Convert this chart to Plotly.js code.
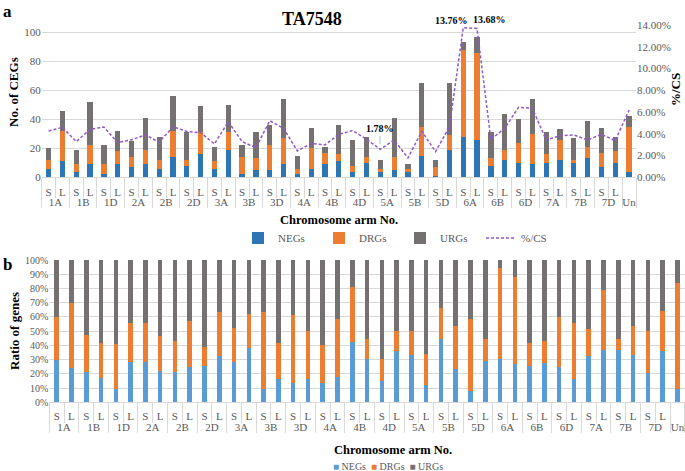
<!DOCTYPE html>
<html>
<head>
<meta charset="utf-8">
<script src="https://cdn.plot.ly/plotly-3.0.1.min.js"></script>
<style>html,body{margin:0;padding:0;background:#fff;}#chart{width:685px;height:471px;}</style>
</head>
<body>
<div id="chart"></div>
<script>
// ---- data ----
var chromosomes = ['1A','1B','1D','2A','2B','2D','3A','3B','3D','4A','4B','4D','5A','5B','5D','6A','6B','6D','7A','7B','7D'];
var arms = ['S','L'];
var unLabel = 'Un';

// Panel a: counts of CEGs per arm (order: 1A S, 1A L, 1B S, ... , 7D L, Un)
var negCounts = [6,11,4,9,2,9,7,9,6,14,8,16,6,19,2,5,5,9,2,6,9,11,4,10,4,5,4,15,1,19,28,26,8,12,10,9,10,12,10,13,7,10,4];
var drgCounts = [6,21,5,13,7,9,7,10,6,18,4,15,5,12,12,8,17,18,4,14,8,5,4,4,2,9,2,20,6,10,60,60,5,7,14,21,6,14,2,8,10,8,31];
var urgCounts = [8,14,10,30,13,14,11,22,16,24,19,18,10,19,8,18,14,27,9,14,4,20,18,14,6,27,3,30,5,36,5,11,18,25,16,24,15,7,15,18,17,10,7];
var pctCS = [4.26,4.6,3.28,4.42,4.62,3.2,3.45,3.9,3.23,4.65,4.22,4.1,3.07,5.1,3.28,2.72,5.2,4.5,2.42,3.12,2.98,3.95,4.3,3.5,2.57,3.43,1.78,4.23,2.36,4.65,13.76,13.68,3.49,4.5,6.44,6.34,3.43,3.83,3.89,3.43,3.95,3.37,6.19];

// Panel b: ratio of genes (%)
var negPct = [30,23.9,21,17.3,9.1,28,28,22,21.4,25,25.8,32.6,28.6,38.2,9.1,16.2,13.6,16.4,13.3,17.8,42.6,30.4,15.2,35.8,33.3,12.2,44.5,23.2,8.2,29.2,30.2,26.9,25.8,27.4,24.8,16.4,32.3,36.6,37.1,33.3,20.5,35.9,9.5];
var drgPct = [30,45.9,26.3,24.7,31.6,28,28,24.4,21.4,32,13,30.7,23.8,23.9,54.7,25.8,47.5,33.7,26.7,40.8,38.4,14.1,15.5,14.2,16.7,21.9,22.1,30.7,50.2,15.4,64.5,61.4,16,15.8,35.3,39.2,19.3,42.3,7.4,20.6,29.5,28.4,74];
var urgPct = [40,30.2,52.7,58,59.3,44,44,53.6,57.2,43,61.2,36.7,47.6,37.9,36.2,58,38.9,49.9,60,41.4,19,55.5,69.3,50,50,65.9,33.4,46.1,41.6,55.4,5.3,11.7,58.2,56.8,39.9,44.4,48.4,21.1,55.5,46.1,50,35.7,16.5];

var seriesNames = ['NEGs','DRGs','URGs'];
var colorsA = ['#2E75B6','#ED7D31','#767171'];
var colorsB = ['#5B9BD5','#ED7D31','#767171'];

// ---- build multicategory x ----
var lvl1 = [], lvl2 = [];
chromosomes.forEach(function(c){ arms.forEach(function(a){ lvl1.push(c); lvl2.push(a); }); });
lvl1.push(unLabel); lvl2.push(' ');
var X = [lvl1, lvl2];

var SERIF = 'Liberation Serif, Times New Roman, serif';
var W = 685, H = 471;
function px(x){ return x / W; }
function py(y){ return 1 - y / H; }

var topDom = [px(41.7), px(636)];
var botDom = [px(49.3), px(684.8)];

var countsA = [negCounts, drgCounts, urgCounts];
var pctsB = [negPct, drgPct, urgPct];
var traces = [];
for (var k = 0; k < 3; k++) {
  traces.push({type:'bar', name:seriesNames[k], x:X, y:countsA[k], marker:{color:colorsA[k]}, width:0.38, xaxis:'x', yaxis:'y'});
}
traces.push({type:'scatter', mode:'lines', name:'%/CS', x:X, y:pctCS, line:{color:'#9157C9', width:1.5, dash:'3px,2px'}, xaxis:'x', yaxis:'y2'});
for (var k2 = 0; k2 < 3; k2++) {
  traces.push({type:'bar', name:seriesNames[k2], x:X, y:pctsB[k2], marker:{color:colorsB[k2]}, width:0.31, xaxis:'x2', yaxis:'y3', showlegend:false});
}

var tickFont = {family:SERIF, size:11, color:'#595959'};
function catAxis(dom, anchor, standoff){
  return {type:'multicategory', domain:dom, anchor:anchor, showgrid:false, showline:true, linecolor:'#D9D9D9',
    tickmode:'linear', dtick:1, tick0:0, tickangle:0,
    ticks:'outside', tickson:'boundaries', ticklen:20, tickcolor:'#D9D9D9', ticklabelstandoff:standoff,
    showdividers:true, dividercolor:'#D9D9D9', dividerwidth:1,
    tickfont:tickFont, automargin:false, fixedrange:true};
}

// bottom legend drawn as text with coloured squares
var legendB = seriesNames.map(function(n, i){
  return '<span style="color:' + colorsB[i] + '">■</span> ' + n;
}).join('&nbsp;&nbsp;');

function note(text, x, y, size, extra){
  var a = {text:text, xref:'paper', yref:'paper', x:px(x), y:py(y), xanchor:'center', yanchor:'middle',
           showarrow:false, font:{family:SERIF, size:size, color:'#000'}};
  if (extra) { for (var key in extra) { a[key] = extra[key]; } }
  return a;
}

var layout = {
  width:W, height:H, autosize:false, margin:{l:0,r:0,t:0,b:0}, paper_bgcolor:'#fff', plot_bgcolor:'#fff',
  barmode:'stack', showlegend:true,
  font:{family:SERIF, color:'#000'},
  xaxis: catAxis(topDom, 'y', 4),
  yaxis: {domain:[py(177.3), py(3.3)], range:[0,120], dtick:20, showgrid:true, gridcolor:'#D9D9D9', zeroline:false,
          showline:false, ticks:'', tickfont:tickFont, automargin:false, anchor:'x'},
  yaxis2: {overlaying:'y', side:'right', anchor:'x', range:[0,16], dtick:2, tickformat:'.2f', ticksuffix:'%',
           showgrid:false, zeroline:false, showline:false, ticks:'', tickfont:tickFont, automargin:false},
  xaxis2: catAxis(botDom, 'y3', 3),
  yaxis3: {domain:[py(402.3), py(260)], range:[0,100], dtick:10, ticksuffix:'%', showgrid:true, gridcolor:'#D9D9D9',
           zeroline:false, showline:false, ticks:'', tickfont:{family:SERIF, size:10, color:'#595959'}, automargin:false, anchor:'x2'},
  legend: {orientation:'h', x:px(238), y:py(238), xanchor:'left', yanchor:'middle', entrywidth:36, entrywidthmode:'pixels',
           font:{family:SERIF, size:11, color:'#595959'}, bgcolor:'rgba(0,0,0,0)', traceorder:'normal'},
  annotations: [
    note('<b>a</b>', 7, 12, 17),
    note('<b>b</b>', 7, 264, 17),
    note('<b>TA7548</b>', 312, 19, 18),
    note('<b>No. of CEGs</b>', 14, 92, 13, {textangle:-90}),
    note('<b>%/CS</b>', 676, 90, 13, {textangle:-90}),
    note('<b>Chromosome arm No.</b>', 339, 220, 12.5),
    note('<b>Chromosome arm No.</b>', 393, 450, 12.5),
    note('<b>Ratio of genes</b>', 14, 331, 13, {textangle:-90}),
    note('<b>13.76%</b>', 451, 20.5, 10),
    note('<b>13.68%</b>', 489, 20, 10),
    {text:'<b>1.78%</b>', xref:'paper', yref:'paper', x:px(380), y:py(144), ax:0, ay:-15, showarrow:true, arrowhead:0, arrowwidth:1,
     arrowcolor:'#9DC3E6', standoff:0, font:{family:SERIF, size:10, color:'#000'}},
    note(legendB, 388, 466, 10, {font:{family:SERIF, size:10, color:'#595959'}})
  ]
};

Plotly.newPlot('chart', traces, layout, {displayModeBar:false, staticPlot:true});
</script>
</body>
</html>
